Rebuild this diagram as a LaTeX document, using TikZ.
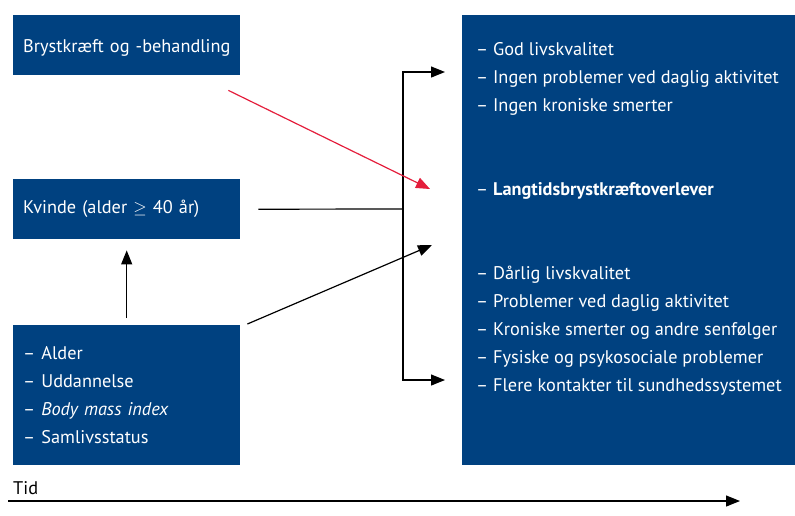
\documentclass[tikz,border=0pt]{standalone}
\usepackage{fontspec}
\setmainfont{PT Sans}
\usetikzlibrary{arrows.meta,positioning,calc}
\definecolor{boxblue}{RGB}{0,65,128}
\definecolor{arrowred}{RGB}{228,30,60}
\tikzset{
  factor/.style={fill=boxblue,text=white,anchor=north west,inner xsep=10pt,inner ysep=0pt,
    align=left,font=\fontsize{18.3}{28}\selectfont,minimum width=227pt,text width=207pt},
  listtext/.style={text=white,anchor=north west,inner sep=0pt,align=left,
    font=\fontsize{18.3}{28}\selectfont},
  flow/.style={-{Triangle[length=14pt,width=11pt]},line width=1.2pt},
  link/.style={line width=1.2pt},
  risk/.style={flow,color=arrowred}
}
\begin{document}
\begin{tikzpicture}[x=1pt,y=-1pt]
  \useasboundingbox (0,0) rectangle (795,515);
  % boxes on the left
  \node[factor,minimum height=60pt] (cancer) at (13,15)
    {\raisebox{-3pt}[\height][\depth]{Brystkræft og -behandling}};
  \node[factor,minimum height=60pt] (woman) at (13,179) {Kvinde (alder $\geq$ 40 år)};
  \node[factor,minimum height=140pt] (covars) at (13,325)
    {– Alder\\– Uddannelse\\– \textit{Body mass index}\\– Samlivsstatus};
  % outcome box
  \node[factor,minimum width=333pt,text width=313pt,minimum height=450pt] (outcome) at (462,15) {};
  \node[listtext] (outtext) at (476,42)
    {– God livskvalitet\\– Ingen problemer ved daglig aktivitet\\– Ingen kroniske smerter\\[56pt]
     – \textbf{Langtidsbrystkræftoverlever}\\[56pt]
     – Dårlig livskvalitet\\– Problemer ved daglig aktivitet\\– Kroniske smerter og andre senfølger\\
     – Fysiske og psykosociale problemer\\– Flere kontakter til sundhedssystemet};
  % connectors
  \coordinate (junc) at (403,209);
  \coordinate (good) at (445,72);
  \coordinate (poor) at (445,380);
  \coordinate (survivor) at (430,189);
  \coordinate (mixed) at (432,245);
  \draw[flow] ([yshift=7pt]covars.north) -- ([yshift=-11pt]woman.south);
  \draw[link] ([xshift=18pt]woman.east) -- (junc);
  \draw[flow] (junc) |- (good);
  \draw[flow] (junc) |- (poor);
  \draw[risk] ([shift={(-12pt,-15pt)}]cancer.south east) -- (survivor);
  \draw[flow] ([shift={(7pt,1pt)}]covars.north east) -- (mixed);
  % time axis
  \node[anchor=base west,inner sep=0pt,font=\fontsize{18.3}{20}\selectfont] (time) at (13,494) {Tid};
  \coordinate (t0) at (8,501);
  \coordinate (t1) at (740,501);
  \draw[flow] (t0) -- (t1);
\end{tikzpicture}
\end{document}
